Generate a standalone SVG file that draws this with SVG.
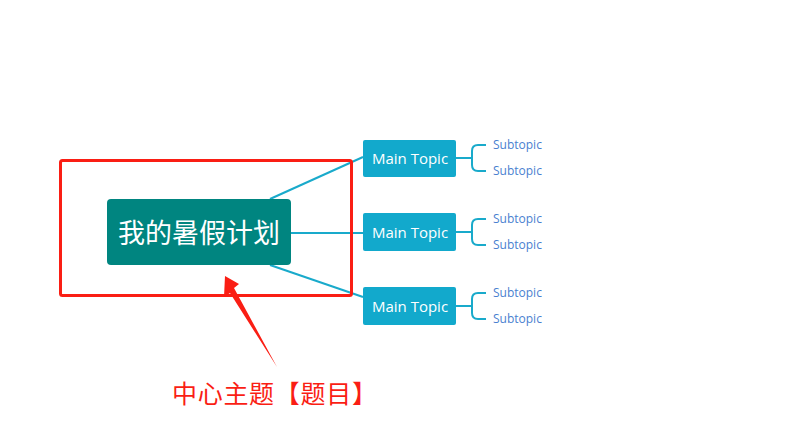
<svg xmlns="http://www.w3.org/2000/svg" width="804" height="446" viewBox="0 0 804 446">
<style>
.main rect{fill:#12a9cc;}
.main text{fill:#fff;font-family:"Open Sans","Noto Sans",sans-serif;font-size:15px;text-anchor:middle;}
.sub text{fill:#4a7fd0;font-family:"Open Sans","Noto Sans",sans-serif;font-size:12px;}
.conn path{fill:none;stroke:#19aacb;stroke-width:2;}
</style>
<rect width="804" height="446" fill="#fff"/>
<g id="connectors" class="conn">
<path d="M270,199 L363,157"/>
<path d="M291,233 L363,233"/>
<path d="M270,265 L363,297"/>
<path d="M456,158 H472 M486,145 H478 Q472,145 472,151 V165 Q472,171 478,171 H486"/>
<path d="M456,232 H472 M486,219 H478 Q472,219 472,225 V239 Q472,245 478,245 H486"/>
<path d="M456,306 H472 M486,293 H478 Q472,293 472,299 V313 Q472,319 478,319 H486"/>
</g>
<g id="central">
<rect x="107" y="199" width="184" height="66" rx="4" fill="#008580"/>
<text x="199" y="243" fill="#fff" font-family="'Noto Sans CJK SC',sans-serif" font-size="27" text-anchor="middle">我的暑假计划</text>
</g>
<g id="main1" class="main"><rect x="363" y="140" width="93" height="37" rx="2"/><text x="410" y="164">Main Topic</text></g>
<g id="main2" class="main"><rect x="363" y="213" width="93" height="38" rx="2"/><text x="410" y="237.5">Main Topic</text></g>
<g id="main3" class="main"><rect x="363" y="287" width="93" height="38" rx="2"/><text x="410" y="311.5">Main Topic</text></g>
<g id="sub1a" class="sub"><text x="493" y="149">Subtopic</text></g>
<g id="sub1b" class="sub"><text x="493" y="175">Subtopic</text></g>
<g id="sub2a" class="sub"><text x="493" y="223">Subtopic</text></g>
<g id="sub2b" class="sub"><text x="493" y="249">Subtopic</text></g>
<g id="sub3a" class="sub"><text x="493" y="297">Subtopic</text></g>
<g id="sub3b" class="sub"><text x="493" y="323">Subtopic</text></g>
<g id="annotation">
<rect x="60.5" y="160.5" width="291" height="135" rx="2" fill="none" stroke="#fa1e14" stroke-width="3"/>
<polygon points="225,276 239,284 234,288 277,367 230,293 224,297" fill="#fa1e14"/>
<text x="172" y="403" fill="#fa1e14" font-family="'Noto Sans CJK SC',sans-serif" font-size="25" letter-spacing="0.7">中心主题【题目<tspan x="352">】</tspan></text>
</g>
</svg>
